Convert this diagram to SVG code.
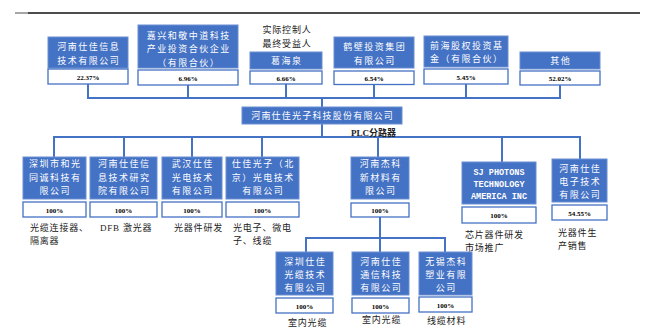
<svg xmlns="http://www.w3.org/2000/svg" width="649" height="327" viewBox="0 0 649 327">
<style>
.b{fill:#4472C4;stroke:#6A8FD3;stroke-width:1}
.p{fill:#fff;stroke:#4472C4;stroke-width:1.3}
.c{stroke:#4472C4;stroke-width:2;fill:none}
.t{font-family:"Noto Sans CJK SC","Noto Sans",sans-serif;font-size:9px;fill:#fff;text-anchor:middle;letter-spacing:1.5px}
.m{font-family:"Liberation Mono",monospace;font-size:8.5px;font-weight:bold;fill:#fff;text-anchor:middle}
.pt{font-family:"Liberation Serif",serif;font-size:7px;font-weight:bold;fill:#000;text-anchor:middle}
.d{font-family:"Liberation Serif","Noto Sans CJK SC",serif;font-size:9px;fill:#222;letter-spacing:0.8px}
</style>
<rect width="649" height="327" fill="#fff"/>
<line x1="15" y1="13" x2="28" y2="13" stroke="#888" stroke-width="1.5"/>
<line x1="28" y1="13" x2="640" y2="13" stroke="#111" stroke-width="1.5"/>

<g id="connectors">
<path class="c" d="M88 84V98M188 85V98M286 84V98M374 84V98M466 84V98M560 85V98M87 98H561M322 98V107"/>
<path class="c" d="M322 124V137M53 137H581M54 137V157M124 137V157M192 137V157M262 137V157M378 137V157M502 137V162M580 137V159"/>
<path class="c" d="M380 217V252M305 238H446M306 238V252M445 238V252"/>
</g>

<g id="n1"><rect class="b" x="48" y="37" width="80" height="31"/><text class="t" x="88.8" y="50">河南仕佳信息</text><text class="t" x="88.8" y="63.5">技术有限公司</text><rect class="p" x="48" y="69" width="80" height="15"/><text class="pt" x="88" y="79.5">22.37%</text></g>
<g id="n2"><rect class="b" x="138" y="25" width="100" height="43"/><text class="t" x="188.8" y="38.5">嘉兴和敬中道科技</text><text class="t" x="188.8" y="52">产业投资合伙企业</text><text class="t" x="188.8" y="65.5">（有限合伙）</text><rect class="p" x="138" y="70" width="100" height="15"/><text class="pt" x="188" y="80.5">6.96%</text></g>
<g id="n3"><text class="d" x="287" y="33" text-anchor="middle">实际控制人</text><text class="d" x="287" y="46.5" text-anchor="middle">最终受益人</text><rect class="b" x="250" y="52" width="72" height="17"/><text class="t" x="286.8" y="64">葛海泉</text><rect class="p" x="250" y="71" width="72" height="13"/><text class="pt" x="286" y="80.5">6.66%</text></g>
<g id="n4"><rect class="b" x="334" y="37" width="80" height="31"/><text class="t" x="374.8" y="50">鹤壁投资集团</text><text class="t" x="374.8" y="63.5">有限公司</text><rect class="p" x="334" y="71" width="80" height="13.5"/><text class="pt" x="374" y="80.5">6.54%</text></g>
<g id="n5"><rect class="b" x="424" y="36" width="84" height="31"/><text class="t" x="466.8" y="48.5">前海股权投资基</text><text class="t" x="466.8" y="62">金（有限合伙）</text><rect class="p" x="424" y="69" width="84" height="15"/><text class="pt" x="466" y="79.5">5.45%</text></g>
<g id="n6"><rect class="b" x="520" y="52" width="80" height="17"/><text class="t" x="560.8" y="64">其他</text><rect class="p" x="520" y="71" width="80" height="14"/><text class="pt" x="560" y="81">52.02%</text></g>

<g id="main"><rect class="b" x="242" y="107" width="160" height="17"/><text class="t" x="322.6" y="119.3" style="letter-spacing:1.2px">河南仕佳光子科技股份有限公司</text></g>
<text class="d" x="351" y="136" style="font-weight:bold;letter-spacing:0">PLC分路器</text>

<g id="a"><rect class="b" x="23" y="157" width="63" height="42"/><text class="t" x="55.3" y="167.3">深圳市和光</text><text class="t" x="55.3" y="180.8">同诚科技有</text><text class="t" x="55.3" y="194.3">限公司</text><rect class="p" x="23" y="202" width="63" height="15"/><text class="pt" x="54.5" y="212.5">100%</text>
<text class="d" x="30" y="230.5">光缆连接器、</text><text class="d" x="30" y="244">隔离器</text></g>
<g id="b"><rect class="b" x="90" y="157" width="67" height="42"/><text class="t" x="124.3" y="167.3">河南仕佳信</text><text class="t" x="124.3" y="180.8">息技术研究</text><text class="t" x="124.3" y="194.3">院有限公司</text><rect class="p" x="90" y="202" width="67" height="15"/><text class="pt" x="123.5" y="212.5">100%</text>
<text class="d" x="100" y="230.5">DFB 激光器</text></g>
<g id="c"><rect class="b" x="162" y="157" width="60" height="42"/><text class="t" x="192.8" y="167.3">武汉仕佳</text><text class="t" x="192.8" y="180.8">光电技术</text><text class="t" x="192.8" y="194.3">有限公司</text><rect class="p" x="162" y="202" width="60" height="15"/><text class="pt" x="192" y="212.5">100%</text>
<text class="d" x="174" y="230.5">光器件研发</text></g>
<g id="dd"><rect class="b" x="226" y="157" width="73" height="42"/><text class="t" x="263.3" y="167.3">仕佳光子（北</text><text class="t" x="263.3" y="180.8">京）光电技术</text><text class="t" x="263.3" y="194.3">有限公司</text><rect class="p" x="226" y="202" width="73" height="15"/><text class="pt" x="262.5" y="212.5">100%</text>
<text class="d" x="233" y="230.5">光电子、微电</text><text class="d" x="233" y="244">子、线缆</text></g>
<g id="e"><rect class="b" x="351" y="157" width="58" height="42"/><text class="t" x="380.8" y="167.3">河南杰科</text><text class="t" x="380.8" y="180.8">新材料有</text><text class="t" x="380.8" y="194.3">限公司</text><rect class="p" x="351" y="203" width="58" height="14"/><text class="pt" x="380" y="213">100%</text></g>
<g id="f"><rect class="b" x="462" y="162" width="74" height="42"/><text class="m" x="499" y="175">SJ PHOTONS</text><text class="m" x="499" y="186.5">TECHNOLOGY</text><text class="m" x="499" y="199">AMERICA INC</text><rect class="p" x="462" y="207" width="74" height="16"/><text class="pt" x="499" y="218">100%</text>
<text class="d" x="465" y="238">芯片器件研发</text><text class="d" x="465" y="251">市场推广</text></g>
<g id="g"><rect class="b" x="552" y="159" width="55" height="43"/><text class="t" x="580.3" y="171.5">河南仕佳</text><text class="t" x="580.3" y="184.5">电子技术</text><text class="t" x="580.3" y="197.5">有限公司</text><rect class="p" x="552" y="205" width="55" height="15"/><text class="pt" x="579.5" y="215.5">54.55%</text>
<text class="d" x="558" y="236">光器件生</text><text class="d" x="558" y="249">产销售</text></g>

<g id="h"><rect class="b" x="276" y="252" width="57" height="43"/><text class="t" x="305.3" y="264.5">深圳仕佳</text><text class="t" x="305.3" y="277.5">光缆技术</text><text class="t" x="305.3" y="290.5">有限公司</text><rect class="p" x="276" y="298" width="57" height="15"/><text class="pt" x="304.5" y="308.5">100%</text>
<text class="d" x="288" y="326">室内光缆</text></g>
<g id="i"><rect class="b" x="352" y="252" width="57" height="43"/><text class="t" x="381.3" y="264.5">河南仕佳</text><text class="t" x="381.3" y="277.5">通信科技</text><text class="t" x="381.3" y="290.5">有限公司</text><rect class="p" x="352" y="298" width="57" height="15"/><text class="pt" x="380.5" y="308.5">100%</text>
<text class="d" x="362" y="322.5">室内光缆</text></g>
<g id="j"><rect class="b" x="419" y="252" width="53" height="43"/><text class="t" x="446.3" y="264.5">无锡杰科</text><text class="t" x="446.3" y="277.5">塑业有限</text><text class="t" x="446.3" y="290.5">公司</text><rect class="p" x="419" y="297" width="53" height="15"/><text class="pt" x="445.5" y="307.5">100%</text>
<text class="d" x="427" y="323.5">线缆材料</text></g>
</svg>
